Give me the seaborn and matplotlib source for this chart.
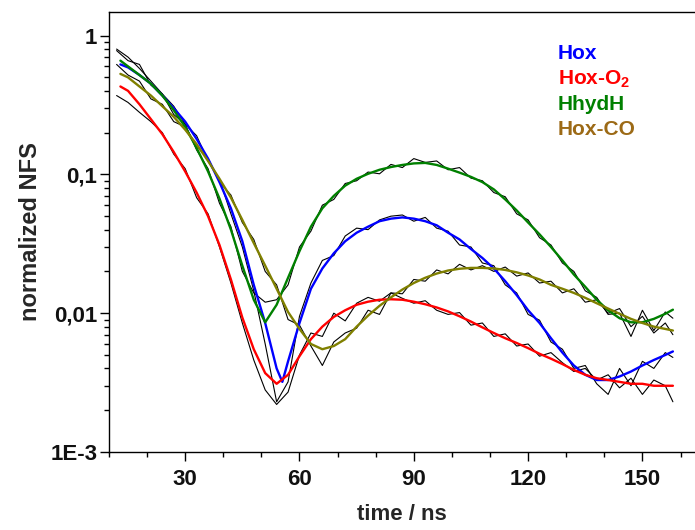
"""
Nuclear forward scattering time spectra: normalized NFS vs time, with fits
for Hox, Hox-O2, HhydH and Hox-CO. Saves out.png.
"""

import matplotlib.pyplot as plt
import pandas as pd
import seaborn as sns
from matplotlib.ticker import FixedLocator, NullFormatter

# measured time channels (ns)
T_DATA = [12, 15, 18, 21, 24, 27, 30, 33, 36, 39, 42, 45, 48, 51, 54, 57,
          60, 63, 66, 69, 72, 75, 78, 81, 84, 87, 90, 93, 96, 99, 102, 105,
          108, 111, 114, 117, 120, 123, 126, 129, 132, 135, 138, 141, 144,
          147, 150, 153, 156, 158]

# raw spectra (black traces)
HOX_DATA = [0.80, 0.70, 0.58, 0.47, 0.38, 0.31, 0.23, 0.19, 0.125, 0.092,
            0.052, 0.030, 0.0145, 0.0060, 0.0023, 0.0032, 0.0095, 0.0165,
            0.024, 0.026, 0.036, 0.041, 0.040, 0.047, 0.050, 0.051, 0.046,
            0.049, 0.041, 0.039, 0.031, 0.030, 0.023, 0.022, 0.016, 0.0140,
            0.0098, 0.0089, 0.0062, 0.0055, 0.0040, 0.0042, 0.0031, 0.0026,
            0.0040, 0.0030, 0.0045, 0.0040, 0.0052, 0.0048]
HOX_O2_DATA = [0.37, 0.33, 0.28, 0.24, 0.20, 0.14, 0.11, 0.068, 0.052, 0.030,
               0.0165, 0.0085, 0.0046, 0.0028, 0.0022, 0.0027, 0.0050,
               0.0072, 0.0068, 0.0100, 0.0088, 0.0118, 0.0130, 0.0122,
               0.0140, 0.0128, 0.0118, 0.0123, 0.0105, 0.0098, 0.0101,
               0.0082, 0.0085, 0.0068, 0.0071, 0.0058, 0.0060, 0.0049,
               0.0052, 0.0044, 0.0038, 0.0040, 0.0033, 0.0036, 0.0029,
               0.0034, 0.0026, 0.0033, 0.0030, 0.0023]
HHYDH_DATA = [0.78, 0.66, 0.62, 0.44, 0.38, 0.27, 0.23, 0.15, 0.11, 0.062,
              0.042, 0.020, 0.0140, 0.0120, 0.0125, 0.0160, 0.030, 0.039,
              0.060, 0.066, 0.086, 0.090, 0.104, 0.101, 0.118, 0.112, 0.130,
              0.122, 0.125, 0.108, 0.112, 0.094, 0.090, 0.074, 0.069, 0.052,
              0.047, 0.035, 0.031, 0.023, 0.020, 0.0145, 0.0130, 0.0098,
              0.0100, 0.0068, 0.0105, 0.0075, 0.0102, 0.0092]
HOX_CO_DATA = [0.62, 0.52, 0.47, 0.35, 0.32, 0.24, 0.22, 0.16, 0.13, 0.088,
               0.071, 0.045, 0.034, 0.020, 0.016, 0.0090, 0.0082, 0.0058,
               0.0042, 0.0062, 0.0072, 0.0078, 0.0105, 0.0098, 0.0140,
               0.0138, 0.0175, 0.0170, 0.0205, 0.0192, 0.0225, 0.0205,
               0.0220, 0.0200, 0.0215, 0.0185, 0.0195, 0.0165, 0.0170,
               0.0140, 0.0150, 0.0120, 0.0125, 0.0100, 0.0108, 0.0080,
               0.0095, 0.0072, 0.0085, 0.0070]

# fitted curves
T_FIT = [13, 15, 18, 21, 24, 27, 30, 33, 36, 39, 42, 45, 48, 51, 54, 57, 60,
         63, 66, 69, 72, 75, 78, 81, 84, 87, 90, 93, 96, 99, 102, 105, 108,
         111, 114, 117, 120, 123, 126, 129, 132, 135, 138, 141, 144, 147,
         150, 153, 156, 158]
T_FIT_HOX = [13, 15, 18, 21, 24, 27, 30, 33, 36, 39, 42, 45, 48, 51, 54,
             55.5, 57, 60, 63, 66, 69, 72, 75, 78, 81, 84, 87, 90, 93, 96,
             99, 102, 105, 108, 111, 114, 117, 120, 123, 126, 129, 132, 135,
             138, 141, 144, 147, 150, 153, 156, 158]
HOX_FIT = [0.62, 0.59, 0.52, 0.45, 0.37, 0.30, 0.24, 0.18, 0.13, 0.088,
           0.057, 0.033, 0.016, 0.0085, 0.0040, 0.0032, 0.0045, 0.0085,
           0.0150, 0.021, 0.027, 0.033, 0.038, 0.042, 0.046, 0.048, 0.049,
           0.048, 0.046, 0.043, 0.038, 0.034, 0.029, 0.025, 0.021, 0.017,
           0.0135, 0.0105, 0.0085, 0.0066, 0.0052, 0.0042, 0.0036, 0.0033,
           0.0033, 0.0035, 0.0038, 0.0042, 0.0046, 0.0050, 0.0053]
HOX_O2_FIT = [0.43, 0.40, 0.32, 0.25, 0.195, 0.145, 0.105, 0.074, 0.050,
              0.031, 0.0175, 0.0093, 0.0055, 0.0037, 0.0031, 0.0036, 0.0049,
              0.0065, 0.0080, 0.0094, 0.0105, 0.0115, 0.0121, 0.0125,
              0.0126, 0.0125, 0.0121, 0.0116, 0.0110, 0.0103, 0.0095,
              0.0087, 0.0079, 0.0072, 0.0066, 0.0061, 0.0056, 0.0051,
              0.0047, 0.0043, 0.0039, 0.0036, 0.0034, 0.0033, 0.0032,
              0.0031, 0.0031, 0.0030, 0.0030, 0.0030]
HHYDH_FIT = [0.66, 0.60, 0.52, 0.45, 0.37, 0.29, 0.22, 0.155, 0.105, 0.067,
             0.040, 0.022, 0.0125, 0.0086, 0.0115, 0.018, 0.028, 0.042,
             0.057, 0.070, 0.083, 0.093, 0.101, 0.108, 0.113, 0.117, 0.120,
             0.121, 0.117, 0.110, 0.103, 0.096, 0.088, 0.078, 0.066, 0.055,
             0.045, 0.037, 0.030, 0.024, 0.019, 0.0155, 0.0125, 0.0105,
             0.0092, 0.0086, 0.0086, 0.0091, 0.0099, 0.0106]
HOX_CO_FIT = [0.53, 0.50, 0.43, 0.37, 0.31, 0.26, 0.21, 0.165, 0.125, 0.093,
              0.068, 0.047, 0.032, 0.022, 0.015, 0.0102, 0.0077, 0.0060,
              0.0055, 0.0058, 0.0065, 0.0080, 0.0096, 0.0113, 0.0130,
              0.0148, 0.0165, 0.0180, 0.0193, 0.0203, 0.0209, 0.0212,
              0.0212, 0.0210, 0.0205, 0.0197, 0.0187, 0.0175, 0.0160,
              0.0150, 0.0140, 0.0129, 0.0118, 0.0108, 0.0099, 0.0091,
              0.0085, 0.0080, 0.0077, 0.0075]

SAMPLES = ["Hox", "Hox-O2", "HhydH", "Hox-CO"]
LEGEND_LABELS = ["Hox", "Hox-O$_2$", "HhydH", "Hox-CO"]
LINE_COLORS = {"Hox": "#0000ff", "Hox-O2": "#ff0000",
               "HhydH": "#008000", "Hox-CO": "#808000"}
TEXT_COLORS = ["#0000ff", "#ff0000", "#008000", "#9c6a16"]

Y_TICKS = [1e-3, 1e-2, 1e-1, 1]
Y_TICK_LABELS = ["1E-3", "0,01", "0,1", "1"]
X_TICKS = [30, 60, 90, 120, 150]

sns.set_theme(style="ticks")
plt.rcParams["font.family"] = ["Liberation Sans", "DejaVu Sans"]
plt.rcParams["mathtext.fontset"] = "custom"
plt.rcParams["mathtext.rm"] = "Liberation Sans:bold"
plt.rcParams["mathtext.default"] = "rm"


def build_frames():
    raw = pd.concat([
        pd.DataFrame({"t": T_DATA, "nfs": vals, "sample": name})
        for name, vals in zip(SAMPLES, [HOX_DATA, HOX_O2_DATA, HHYDH_DATA, HOX_CO_DATA])
    ])
    fit_t = [T_FIT_HOX, T_FIT, T_FIT, T_FIT]
    fit_y = [HOX_FIT, HOX_O2_FIT, HHYDH_FIT, HOX_CO_FIT]
    fit = pd.concat([
        pd.DataFrame({"t": t, "nfs": y, "sample": name})
        for name, t, y in zip(SAMPLES, fit_t, fit_y)
    ])
    return raw, fit


def main() -> None:
    raw, fit = build_frames()

    fig = plt.figure(figsize=(6.95, 5.3), dpi=100)
    ax = fig.add_axes([0.1568, 0.1472, 0.8432, 0.8302])

    sns.lineplot(data=raw, x="t", y="nfs", units="sample", estimator=None,
                 color="black", lw=0.8, sort=False, ax=ax)
    sns.lineplot(data=fit, x="t", y="nfs", hue="sample", hue_order=SAMPLES,
                 palette=LINE_COLORS, estimator=None, lw=1.7, sort=False,
                 legend=False, ax=ax)

    ax.set_yscale("log")
    ax.set_xlim(10, 163.8)
    ax.set_ylim(1e-3, 1.48)

    ax.xaxis.set_major_locator(FixedLocator(X_TICKS))
    ax.xaxis.set_minor_locator(FixedLocator([10, 20, 40, 50, 70, 80, 100,
                                             110, 130, 140, 160]))
    ax.yaxis.set_major_locator(FixedLocator(Y_TICKS))
    ax.set_yticklabels(Y_TICK_LABELS)
    ax.yaxis.set_minor_locator(FixedLocator(
        [m * 10.0 ** e for e in (-3, -2, -1) for m in range(2, 10)]))
    ax.yaxis.set_minor_formatter(NullFormatter())

    ax.tick_params(which="major", direction="out", length=6.5, width=1,
                   color="black", labelsize=16, labelcolor="#111111")
    ax.tick_params(which="minor", direction="out", length=3.6, width=1,
                   color="black")
    ax.tick_params(axis="x", which="major", pad=6)
    ax.tick_params(axis="y", which="major", pad=2)
    for lab in ax.get_xticklabels() + ax.get_yticklabels():
        lab.set_fontweight("bold")

    for side in ("left", "bottom", "top"):
        ax.spines[side].set_color("black")
        ax.spines[side].set_linewidth(1.0)
    ax.spines["right"].set_visible(False)

    ax.set_xlabel("time / ns", fontsize=16, fontweight="bold", labelpad=10)
    ax.set_ylabel("normalized NFS", fontsize=17, fontweight="bold", labelpad=6)

    # coloured text legend, top right
    for i, (label, color) in enumerate(zip(LEGEND_LABELS, TEXT_COLORS)):
        fig.text(558 / 695, 1 - (59 + 25.3 * i) / 530, label, color=color,
                 fontsize=15, fontweight="bold", va="baseline", ha="left")

    fig.savefig("out.png", dpi=100)
    plt.close(fig)


if __name__ == "__main__":
    main()
